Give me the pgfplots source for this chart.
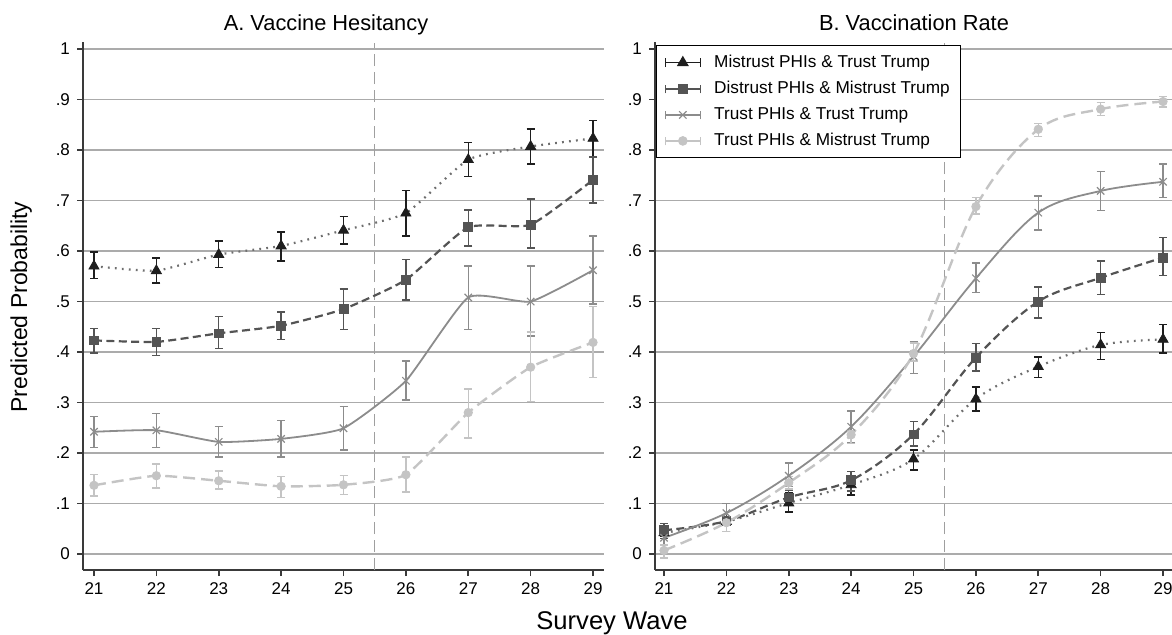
\documentclass[border=0pt]{standalone}
\usepackage{fontspec}
\setmainfont{Liberation Sans}
\usepackage{pgfplots}
\usepackage{pgfplotstable}
\pgfplotsset{compat=1.18}

\definecolor{cT}{HTML}{1E1E1E}
\definecolor{cD}{HTML}{545454}
\definecolor{cX}{HTML}{8C8C8C}
\definecolor{cM}{HTML}{C4C4C4}
\definecolor{lT}{HTML}{6E6E6E}
\definecolor{axc}{HTML}{3A3A3A}
\definecolor{gridc}{HTML}{ABABAB}

% columns: wave, estimate, lower CI, upper CI
\pgfplotstableread{
x y lo hi
21 .570 .545 .598
22 .561 .537 .586
23 .593 .567 .620
24 .610 .580 .638
25 .641 .614 .668
26 .675 .630 .720
27 .781 .748 .815
28 .807 .772 .842
29 .823 .785 .858
}\AmT
\pgfplotstableread{
x y lo hi
21 .423 .398 .447
22 .420 .393 .447
23 .437 .407 .470
24 .452 .425 .479
25 .485 .445 .525
26 .543 .503 .583
27 .647 .610 .681
28 .652 .606 .703
29 .741 .695 .786
}\AdM
\pgfplotstableread{
x y lo hi
21 .242 .211 .272
22 .245 .211 .278
23 .222 .192 .253
24 .228 .192 .264
25 .249 .206 .292
26 .343 .305 .382
27 .508 .445 .570
28 .500 .432 .570
29 .562 .495 .630
}\AtT
\pgfplotstableread{
x y lo hi
21 .136 .115 .158
22 .155 .131 .178
23 .145 .129 .164
24 .134 .112 .153
25 .137 .118 .156
26 .157 .123 .192
27 .280 .230 .327
28 .370 .302 .440
29 .419 .349 .490
}\AtM

\pgfplotstableread{
x y lo hi
21 .042 .035 .050
22 .064 .044 .070
23 .101 .083 .122
24 .137 .117 .156
25 .188 .166 .206
26 .307 .283 .331
27 .371 .349 .390
28 .414 .385 .439
29 .425 .398 .454
}\BmT
\pgfplotstableread{
x y lo hi
21 .047 .031 .060
22 .065 .045 .070
23 .112 .098 .126
24 .146 .125 .163
25 .237 .214 .262
26 .389 .362 .417
27 .500 .467 .529
28 .547 .514 .580
29 .587 .551 .627
}\BdM
\pgfplotstableread{
x y lo hi
21 .032 .019 .045
22 .081 .063 .100
23 .155 .134 .180
24 .252 .220 .283
25 .391 .357 .420
26 .546 .518 .576
27 .676 .642 .709
28 .719 .680 .757
29 .737 .706 .772
}\BtT
\pgfplotstableread{
x y lo hi
21 .007 -.008 .018
22 .062 .044 .071
23 .141 .129 .153
24 .236 .219 .244
25 .397 .382 .418
26 .688 .673 .706
27 .841 .827 .853
28 .881 .868 .894
29 .896 .885 .906
}\BtM

\pgfplotsset{
  panel/.style={
    scale only axis, height=264pt,
    ymin=-0.0317, ymax=1.0139,
    axis lines*=left,
    axis line style={color=axc, line width=0.8pt, -},
    tick align=outside, major tick length=3pt,
    tick style={color=axc, line width=0.8pt},
    xtick={21,22,23,24,25,26,27,28,29},
    ytick={0,0.1,0.2,0.3,0.4,0.5,0.6,0.7,0.8,0.9,1},
    yticklabels={0,.1,.2,.3,.4,.5,.6,.7,.8,.9,1},
    ymajorgrids, grid style={color=gridc, line width=0.6pt},
    tick label style={font=\fontsize{8.5}{10}\selectfont, color=black},
    /pgf/number format/assume math mode=true,
    clip=false,
  },
  errb/.style={
    /pgfplots/error bars/y dir=both,
    /pgfplots/error bars/y explicit,
    /pgfplots/error bars/error bar style={color=#1, line width=0.7pt, solid},
    /pgfplots/error bars/error mark options={rotate=90, color=#1, line width=0.7pt, mark size=2pt, solid},
  },
  lineT/.style={color=lT, line width=1.1pt, dash pattern=on 0.9pt off 2.6pt, smooth, no markers},
  lineD/.style={color=cD, line width=1.1pt, dash pattern=on 4pt off 2.2pt, smooth, no markers},
  lineX/.style={color=cX, line width=0.9pt, solid, smooth, no markers},
  lineM/.style={color=cM, line width=1.2pt, dash pattern=on 6pt off 3pt, smooth, no markers},
  markT/.style={only marks, color=cT, mark=triangle*, mark size=2.9pt, mark options={solid, fill=cT}, errb=cT},
  markD/.style={only marks, color=cD, mark=square*, mark size=2.2pt, mark options={solid, fill=cD}, errb=cD},
  markX/.style={only marks, color=cX, mark=x, mark size=2.6pt, mark options={solid, line width=0.6pt}, errb=cX},
  markM/.style={only marks, color=cM, mark=*, mark size=2.1pt, mark options={solid, fill=cM}, errb=cM},
  errleg/.style={legend image code/.code={
    \draw[##1, solid, line width=0.7pt] (0pt,0pt) -- (17.5pt,0pt) (0pt,-2.2pt) -- (0pt,2.2pt) (17.5pt,-2.2pt) -- (17.5pt,2.2pt);
    \draw[##1, solid] plot coordinates {(8.75pt,0pt)};
  }},
}

% #1 style suffix, #2 table, #3 curve tension
\newcommand{\series}[3]{%
  \addplot[line#1, tension=#3, forget plot] table[x=x, y=y] {#2};
  \addplot[mark#1, forget plot] table[x=x, y=y,
    y error plus expr=\thisrow{hi}-\thisrow{y},
    y error minus expr=\thisrow{y}-\thisrow{lo}] {#2};
}

\begin{document}
\begin{tikzpicture}
\begin{axis}[panel, at={(41.5pt,32pt)}, anchor=south west, width=260.5pt,
  xmin=20.824, xmax=29.176]
  \addplot[color=gray!75, line width=0.5pt, dash pattern=on 6pt off 3pt, forget plot] coordinates {(25.5,-0.0317) (25.5,1.012)};
  \series{T}{\AmT}{0.3}
  \series{D}{\AdM}{0.3}
  \series{X}{\AtT}{0.3}
  \series{M}{\AtM}{0.3}
\end{axis}

\begin{axis}[panel, at={(327.5pt,32pt)}, anchor=south west, width=258.5pt,
  xmin=20.856, xmax=29.144,
  legend cell align=left,
  legend style={at={(0.002,0.994)}, anchor=north west, draw=black, line width=0.6pt,
    fill=white, font=\fontsize{8.6}{10}\selectfont, row sep=2.2pt,
    inner xsep=4pt, inner ysep=3pt,
    nodes={inner sep=1.6pt},
    /tikz/every odd column/.append style={column sep=5pt}}]
  \addlegendimage{errleg, color=cT, mark=triangle*, mark size=2.9pt, mark options={fill=cT}}
  \addlegendentry{Mistrust PHIs \& Trust Trump}
  \addlegendimage{errleg, color=cD, mark=square*, mark size=2.2pt, mark options={fill=cD}}
  \addlegendentry{Distrust PHIs \& Mistrust Trump}
  \addlegendimage{errleg, color=cX, mark=x, mark size=2.6pt}
  \addlegendentry{Trust PHIs \& Trust Trump}
  \addlegendimage{errleg, color=cM, mark=*, mark size=2.1pt, mark options={fill=cM}}
  \addlegendentry{Trust PHIs \& Mistrust Trump}
  \addplot[color=gray!75, line width=0.5pt, dash pattern=on 6pt off 3pt, forget plot] coordinates {(25.5,-0.0317) (25.5,1.012)};
  \series{T}{\BmT}{0.55}
  \series{D}{\BdM}{0.55}
  \series{X}{\BtT}{0.55}
  \series{M}{\BtM}{0.55}
\end{axis}

\node[anchor=base, font=\fontsize{10.9}{13}\selectfont] at (163pt,302pt) {A. Vaccine Hesitancy};
\node[anchor=base, font=\fontsize{10.9}{13}\selectfont] at (457pt,302pt) {B. Vaccination Rate};
\node[anchor=base, rotate=90, font=\fontsize{11.5}{14}\selectfont] at (13.5pt,163.5pt) {Predicted Probability};
\node[anchor=base, font=\fontsize{12.8}{15}\selectfont] at (306pt,2.5pt) {Survey Wave};

\pgfresetboundingbox
\useasboundingbox (0pt,0pt) rectangle (586pt,317pt);
\end{tikzpicture}
\end{document}
